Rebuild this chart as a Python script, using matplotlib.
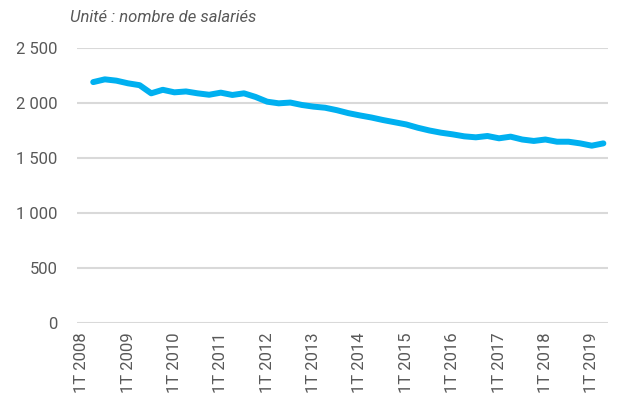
import numpy as np
import matplotlib.pyplot as plt

plt.rcParams['font.family'] = ['Roboto', 'DejaVu Sans']

years = list(range(2008, 2020))
quarters = [f"{q}T {y}" for y in years for q in range(1, 5)][:46]  # 1T 2008 .. 2T 2019

# nombre de salariés, 1T 2008 absent
salaries = [np.nan,
            2190, 2215, 2203, 2179, 2162, 2088, 2120, 2097, 2105, 2088,
            2075, 2094, 2073, 2088, 2055, 2012, 1997, 2004, 1982, 1967,
            1957, 1935, 1908, 1887, 1868, 1845, 1825, 1805, 1775, 1750,
            1730, 1715, 1697, 1688, 1700, 1679, 1694, 1668, 1655, 1668,
            1648, 1648, 1633, 1612, 1633]

yticks = [0, 500, 1000, 1500, 2000, 2500]
ytick_labels = ["0", "500", "1 000", "1 500", "2 000", "2 500"]

grey = "#595959"

fig = plt.figure(figsize=(6.22, 4.03), dpi=100)
ax = fig.add_axes([77 / 622, 1 - 323 / 403, (608 - 77) / 622, (323 - 48) / 403])

x = np.arange(len(quarters))
ax.plot(x, salaries, color="#00B0F0", linewidth=4.3, solid_capstyle="round",
        solid_joinstyle="round", zorder=3)

ax.set_ylim(0, 2500)
ax.set_xlim(-0.4, len(quarters) - 0.6)
ax.set_yticks(yticks)
ax.set_yticklabels(ytick_labels)
ax.yaxis.grid(True, color="#D9D9D9", linewidth=1.5)
ax.set_axisbelow(True)

ax.set_xticks(x[::4])
ax.set_xticklabels(quarters[::4], rotation=90)

for s in ax.spines.values():
    s.set_visible(False)
ax.tick_params(axis="both", length=0, labelsize=12, labelcolor=grey)
ax.tick_params(axis="y", pad=14)
ax.tick_params(axis="x", pad=7)

fig.text(70 / 622, 1 - 18 / 403, "Unité : nombre de salariés", fontsize=12,
         style="italic", color=grey, ha="left", va="center")

fig.savefig("out.png", dpi=100)
